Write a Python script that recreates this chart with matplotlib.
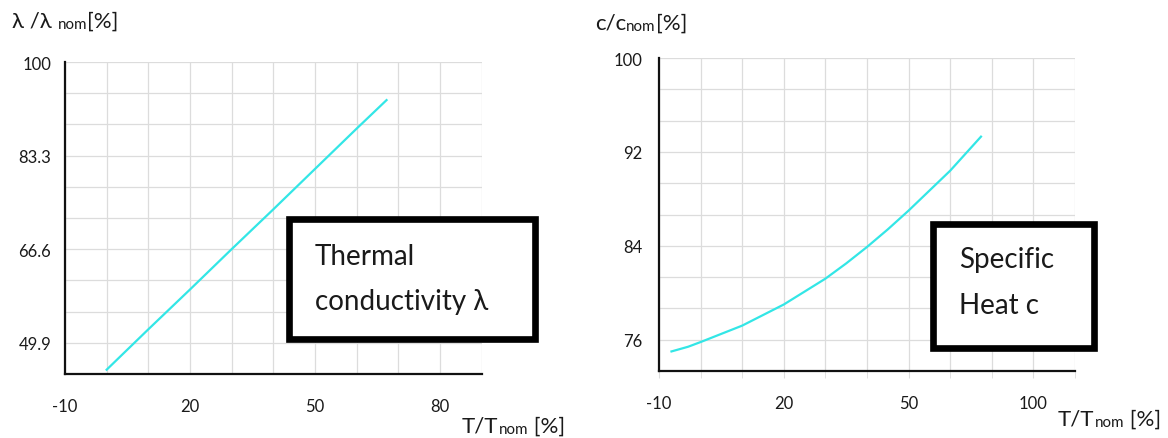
import matplotlib
matplotlib.use("Agg")
import matplotlib.pyplot as plt
from matplotlib.patches import Rectangle

plt.rcParams["font.family"] = ["Lato", "DejaVu Sans"]

# thermal conductivity
lam_T = [0, 10, 20, 30, 40, 50, 60, 67.2]
lam_val = [45.1, 52.3, 59.4, 66.6, 73.7, 80.9, 88.1, 93.2]
lam_yticks = [49.9, 66.6, 83.3, 100]
lam_xticks = [-10, 20, 50, 80]
lam_xlabels = ["-10", "20", "50", "80"]

# specific heat
c_T = [-7, -3, 0, 5, 10, 15, 20, 25, 30, 35, 40, 45, 50, 55, 60, 67.4]
c_val = [75.0, 75.4, 75.8, 76.5, 77.2, 78.1, 79.0, 80.1, 81.2, 82.5, 83.9, 85.4, 87.0, 88.7, 90.4, 93.3]
c_yticks = [76, 84, 92, 100]
c_xticks = [-10, 20, 50, 80]
c_xlabels = ["-10", "20", "50", "100"]

W, H = 1168, 439
line_col = "#33e6e6"
grid_col = "#dcdcdc"
txt_col = "#1a1a1a"


def fx(px):
    return px / W


def fy(py):
    return 1 - py / H


def sub_label(fig, ax, x, y, a, b, c, size=16):
    t1 = fig.text(fx(x), fy(y), a, fontsize=size, va="bottom", ha="left", color=txt_col)
    t2 = ax.annotate(b, xy=(1, 0), xycoords=t1, fontsize=size * 0.68, va="bottom",
                     ha="left", color=txt_col, annotation_clip=False)
    ax.annotate(c, xy=(1, 0), xycoords=(t2, t1), fontsize=size, va="bottom",
                ha="left", color=txt_col, annotation_clip=False)


def setup(ax, ymin, ymax, ystep, yticks, xticks, xlabels, xpad, ypad):
    ax.set_xlim(-10, 90)
    ax.set_ylim(ymin, ymax)
    grid_y = [ymin + i * ystep for i in range(11)]
    ax.set_xticks(range(-10, 91, 10), minor=True)
    ax.set_yticks(grid_y, minor=True)
    ax.set_xticks(xticks)
    ax.set_xticklabels(xlabels)
    ax.set_yticks(yticks)
    ax.set_yticklabels([str(v) for v in yticks])
    ax.grid(True, which="both", color=grid_col, lw=0.9)
    ax.set_axisbelow(True)
    ax.tick_params(which="both", length=0, labelsize=12, labelcolor=txt_col)
    ax.tick_params(axis="x", pad=xpad)
    ax.tick_params(axis="y", pad=ypad)
    for s in ["top", "right"]:
        ax.spines[s].set_visible(False)
    for s in ["left", "bottom"]:
        ax.spines[s].set_linewidth(1.6)
        ax.spines[s].set_color("#111111")


fig = plt.figure(figsize=(W / 100, H / 100), dpi=100)

ax1 = fig.add_axes([fx(65), fy(375), fx(481.5 - 65), (375 - 63) / H])
ax1.plot(lam_T, lam_val, color=line_col, lw=1.6)
setup(ax1, 100 - 10 * 16.7 / 3, 100, 16.7 / 3, lam_yticks, lam_xticks, lam_xlabels, 17, 10)

ax2 = fig.add_axes([fx(659), fy(372), fx(1075 - 659), (372 - 59) / H])
ax2.plot(c_T, c_val, color=line_col, lw=1.6)
setup(ax2, 100 - 10 * 8 / 3, 100, 8 / 3, c_yticks, c_xticks, c_xlabels, 12, 12)
ax2.tick_params(axis="x", which="both", length=5, color=grid_col)

# axis titles
sub_label(fig, ax1, 12, 32, "λ /λ ", "nom", "[%]")
sub_label(fig, ax2, 595, 34, "c/c", "nom", "[%]")
sub_label(fig, ax1, 462, 437, "T/T", "nom", " [%]")
sub_label(fig, ax2, 1058, 430, "T/T", "nom", " [%]")

# boxed captions
for (x0, y0, x1, y1) in [(289, 220, 534.5, 339.5), (933, 225, 1094, 348.5)]:
    fig.add_artist(Rectangle((fx(x0), fy(y1)), fx(x1 - x0), (y1 - y0) / H,
                             transform=fig.transFigure, fill=True, fc="white",
                             ec="black", lw=4.8))

fig.text(fx(315), fy(265), "Thermal", fontsize=20, va="baseline", color=txt_col)
fig.text(fx(315), fy(310), "conductivity λ", fontsize=20, va="baseline", color=txt_col)
fig.text(fx(959), fy(268), "Specific", fontsize=20, va="baseline", color=txt_col)
fig.text(fx(959), fy(314), "Heat c", fontsize=20, va="baseline", color=txt_col)

fig.savefig("out.png", dpi=100)
